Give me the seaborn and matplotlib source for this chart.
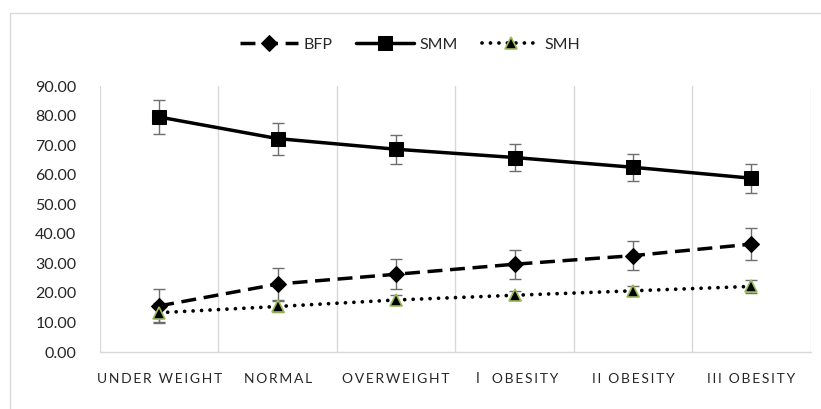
import numpy as np
import pandas as pd
import matplotlib
matplotlib.use("Agg")
import matplotlib.pyplot as plt
from matplotlib.patches import Rectangle
from matplotlib.ticker import FormatStrFormatter, FixedLocator
import seaborn as sns

# Body-composition indices by BMI group (mean ± SD)
categories = ["UNDER WEIGHT", "NORMAL", "OVERWEIGHT", "\u2160 OBESITY", "II OBESITY", "III OBESITY"]
bfp = [15.6, 23.0, 26.3, 29.7, 32.6, 36.5]
bfp_sd = [5.6, 5.5, 5.0, 4.9, 4.8, 5.3]
smm = [79.5, 72.2, 68.6, 65.8, 62.5, 58.8]
smm_sd = [5.7, 5.4, 4.9, 4.7, 4.6, 4.9]
smh = [13.3, 15.4, 17.6, 19.2, 20.7, 22.2]
smh_sd = [3.4, 2.0, 1.8, 1.5, 1.6, 2.2]
y_ticks = [0, 10, 20, 30, 40, 50, 60, 70, 80, 90]

sns.set_style("white")
plt.rcParams["font.family"] = ["Lato", "Noto Sans CJK SC", "DejaVu Sans"]

fig = plt.figure(figsize=(8.21, 4.09), dpi=100)
ax = fig.add_axes([100 / 821, 1 - 352 / 409, 710.7 / 821, 266 / 409])

# light frame around the chart area
fig.patches.append(Rectangle((10 / 821, -0.1), 1.2, 1 - 13 / 409 + 0.1,
                             transform=fig.transFigure, fill=False,
                             edgecolor="#D9D9D9", lw=1.0, zorder=0))

x = np.arange(len(categories))
df = pd.DataFrame({"pos": x, "BFP": bfp, "SMM": smm, "SMH": smh})

err_kw = dict(fmt="none", ecolor="#6E6E6E", elinewidth=1.0, capsize=4.5, capthick=1.0, zorder=2)
ax.errorbar(x, bfp, yerr=bfp_sd, **err_kw)
ax.errorbar(x, smm, yerr=smm_sd, **err_kw)
ax.errorbar(x, smh, yerr=smh_sd, **err_kw)

sns.lineplot(data=df, x="pos", y="BFP", ax=ax, color="black", lw=2.5,
             linestyle=(0, (4.3, 2.2)), marker="D", markersize=8.5,
             markeredgecolor="black", label="BFP", sort=False, zorder=3)
sns.lineplot(data=df, x="pos", y="SMM", ax=ax, color="black", lw=2.5,
             marker="s", markersize=10, markeredgecolor="black",
             label="SMM", sort=False, zorder=3)
sns.lineplot(data=df, x="pos", y="SMH", ax=ax, color="black", lw=2.7,
             linestyle=(0, (0.01, 2.25)), dash_capstyle="round",
             marker="^", markersize=9, markeredgecolor="#9BBB59",
             markeredgewidth=1.2, label="SMH", sort=False, zorder=3)

ax.set_xlim(-0.5, len(categories) - 0.5)
ax.set_ylim(0, 90)
ax.set_yticks(y_ticks)
ax.yaxis.set_major_formatter(FormatStrFormatter("%.2f"))


def spaced(s):
    return "\u2009".join(s)


ax.set_xticks(x)
ax.set_xticklabels([spaced(c) for c in categories], fontsize=10, color="#262626")
ax.xaxis.set_minor_locator(FixedLocator(np.arange(-0.5, len(categories), 1.0)))
ax.grid(which="minor", axis="x", color="#D9D9D9", lw=1.0)
ax.grid(which="major", visible=False)
ax.tick_params(axis="x", which="both", length=0, pad=15)
ax.tick_params(axis="y", length=0, pad=17, labelsize=11.5, labelcolor="#262626")
ax.set_xlabel("")
ax.set_ylabel("")

for side in ["left", "right", "top"]:
    ax.spines[side].set_visible(False)
ax.spines["bottom"].set_color("#D9D9D9")
ax.spines["bottom"].set_linewidth(1.0)

ax.legend(loc="center", bbox_to_anchor=(0.5, 1 - 45 / 409), bbox_transform=fig.transFigure,
          ncol=3, frameon=False, fontsize=11.5, handlelength=3.6, handletextpad=0.35,
          columnspacing=1.5, labelcolor="#262626")

fig.savefig("out.png", dpi=100)
